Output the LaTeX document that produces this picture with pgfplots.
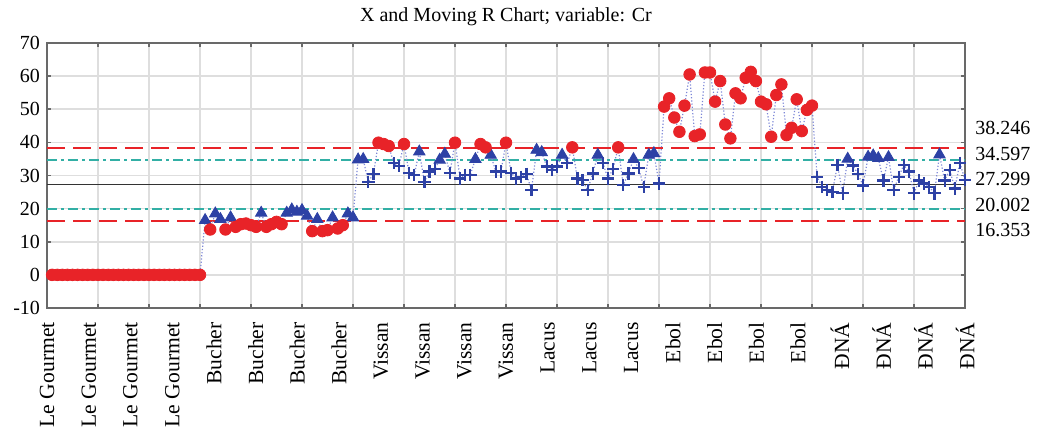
\documentclass[border=0pt]{standalone}
\usepackage{fontspec}
\setmainfont{Liberation Serif}
\usepackage{pgfplots}
\pgfplotsset{compat=1.18}
\usepackage{pgfplotstable}

\definecolor{ctrl}{RGB}{232,35,40}
\definecolor{warn}{RGB}{50,175,165}
\definecolor{pts}{RGB}{45,65,165}
\definecolor{conn}{RGB}{125,135,215}
\definecolor{gridc}{RGB}{222,222,222}
\definecolor{frm}{RGB}{105,105,105}

% X chart, variable Cr (30 samples per brand)
\pgfplotstableread{
x y
1 0
2 0
3 0
4 0
5 0
6 0
7 0
8 0
9 0
10 0
11 0
12 0
13 0
14 0
15 0
16 0
17 0
18 0
19 0
20 0
21 0
22 0
23 0
24 0
25 0
26 0
27 0
28 0
29 0
30 0
31 16.5
32 13.7
33 18.5
34 16.8
35 13.7
36 17.3
37 14.5
38 15.3
39 15.5
40 15.0
41 14.5
42 18.7
43 14.5
44 15.3
45 16.0
46 15.3
47 18.7
48 19.7
49 19.0
50 19.5
51 17.8
52 13.2
53 16.8
54 13.2
55 13.5
56 17.3
57 14.0
58 15.0
59 18.5
60 17.3
61 34.8
62 34.9
63 28.1
64 30.5
65 39.9
66 39.5
67 38.9
68 33.7
69 32.9
70 39.5
71 30.8
72 30.2
73 37.2
74 28.1
75 31.2
76 31.9
77 34.7
78 36.5
79 30.8
80 39.9
81 29.1
82 30.2
83 30.2
84 34.9
85 39.5
86 38.5
87 36.2
88 31.2
89 31.2
90 39.9
91 30.8
92 29.1
93 29.6
94 30.5
95 25.6
96 37.7
97 37.0
98 32.7
99 31.7
100 32.7
101 36.2
102 33.7
103 38.5
104 29.1
105 28.6
106 25.6
107 30.6
108 36.2
109 33.7
110 29.1
111 32.0
112 38.5
113 27.1
114 30.6
115 34.9
116 32.2
117 26.6
118 36.2
119 36.7
120 27.6
121 50.8
122 53.3
123 47.5
124 43.2
125 51.1
126 60.5
127 41.9
128 42.4
129 61.1
130 61.1
131 52.3
132 58.5
133 45.4
134 41.2
135 54.8
136 53.3
137 59.5
138 61.3
139 58.5
140 52.3
141 51.5
142 41.7
143 54.3
144 57.5
145 42.2
146 44.4
147 53.0
148 43.4
149 49.8
150 51.1
151 29.6
152 26.6
153 25.6
154 25.1
155 33.2
156 24.6
157 35.0
158 33.0
159 30.5
160 27.0
161 35.6
162 36.0
163 35.2
164 28.5
165 35.5
166 25.6
167 29.6
168 33.2
169 31.2
170 24.6
171 28.5
172 27.6
173 26.6
174 24.6
175 36.3
176 28.5
177 31.7
178 26.1
179 33.8
180 28.6
}\crdata

\begin{document}
\begin{tikzpicture}
\path (-23.5pt,-62pt) rectangle (495.5pt,154pt);
\begin{axis}[
  at={(0,0)}, anchor=south west,
  scale only axis, width=459pt, height=132.5pt,
  xmin=0, xmax=180, ymin=-10, ymax=70,
  ytick={-10,0,...,70},
  yticklabels={-10,0,10,20,30,40,50,60,70},
  xtick={0,8.18,16.36,24.55,32.73,40.91,49.09,57.27,65.45,73.64,81.82,90,98.18,106.36,114.55,122.73,130.91,139.09,147.27,155.45,163.64,171.82,180},
  xticklabels={Le Gourmet,Le Gourmet,Le Gourmet,Le Gourmet,Bucher,Bucher,Bucher,Bucher,Vissan,Vissan,Vissan,Vissan,Lacus,Lacus,Lacus,Ebol,Ebol,Ebol,Ebol,ĐNÁ,ĐNÁ,ĐNÁ,ĐNÁ},
  minor xtick={0,10,...,180},
  xminorgrids=true, ymajorgrids=true,
  minor x grid style={gridc, line width=0.8pt},
  major y grid style={gridc, line width=0.8pt},
  major x tick style={draw=none},
  minor x tick style={frm, line width=0.8pt},
  major y tick style={frm, line width=0.8pt},
  minor tick length=2.2pt, major tick length=2.2pt,
  axis line style={frm, line width=1.1pt},
  yticklabel style={font=\fontsize{10}{12}\selectfont},
  xticklabel style={rotate=90, anchor=east, inner sep=0pt, font=\fontsize{10.8}{12}\selectfont},
  xticklabel shift=7pt,
  title={X and Moving R Chart; variable: Cr},
  title style={font=\fontsize{10}{12}\selectfont, yshift=-1pt},
  clip=false,
]
% control and warning limits, centre line
\addplot[ctrl, line width=0.9pt, dash pattern=on 9pt off 4pt] coordinates {(0,38.246) (180,38.246)};
\addplot[ctrl, line width=0.9pt, dash pattern=on 9pt off 4pt] coordinates {(0,16.353) (180,16.353)};
\addplot[warn, line width=0.9pt, dash pattern=on 5pt off 2pt on 1.5pt off 2pt] coordinates {(0,34.597) (180,34.597)};
\addplot[warn, line width=0.9pt, dash pattern=on 5pt off 2pt on 1.5pt off 2pt] coordinates {(0,20.002) (180,20.002)};
\addplot[black!80, line width=0.9pt] coordinates {(0,27.299) (180,27.299)};
% connecting line
\addplot[conn, line width=0.6pt, densely dotted, no marks] table {\crdata};
% markers by zone
\addplot[only marks, mark=+, pts, mark size=3.1pt, line width=1.1pt, restrict y to domain=20.002:34.597] table {\crdata};
\addplot[only marks, mark=triangle*, pts, mark size=3.3pt, restrict y to domain=34.597:38.246] table {\crdata};
\addplot[only marks, mark=triangle*, pts, mark size=3.3pt, restrict y to domain=16.353:20.002] table {\crdata};
\addplot[only marks, mark=*, ctrl, mark size=2.9pt, restrict y to domain=38.246:100] table {\crdata};
\addplot[only marks, mark=*, ctrl, mark size=2.9pt, restrict y to domain=-20:16.353] table {\crdata};
% limit values on the right
\node[anchor=west, inner sep=0pt, xshift=5pt, font=\fontsize{10}{12}\selectfont] at (axis cs:180,44.3) {38.246};
\node[anchor=west, inner sep=0pt, xshift=5pt, font=\fontsize{10}{12}\selectfont] at (axis cs:180,36.5) {34.597};
\node[anchor=west, inner sep=0pt, xshift=5pt, font=\fontsize{10}{12}\selectfont] at (axis cs:180,29.0) {27.299};
\node[anchor=west, inner sep=0pt, xshift=5pt, font=\fontsize{10}{12}\selectfont] at (axis cs:180,21.1) {20.002};
\node[anchor=west, inner sep=0pt, xshift=5pt, font=\fontsize{10}{12}\selectfont] at (axis cs:180,13.5) {16.353};
\end{axis}
\end{tikzpicture}
\end{document}
